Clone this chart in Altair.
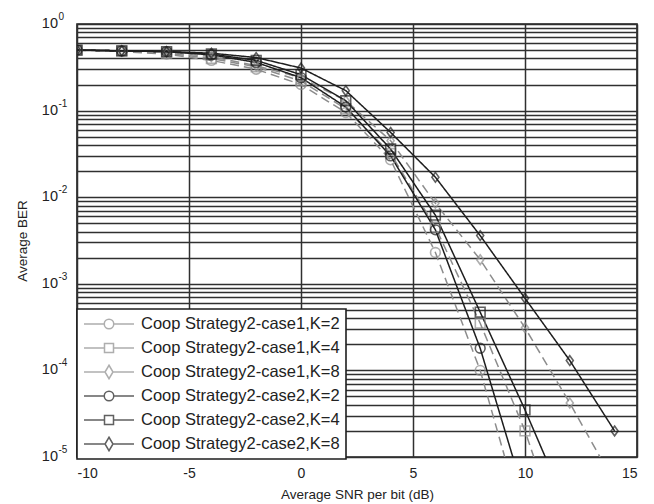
import altair as alt
import pandas as pd

# Eb/N0 sweep (dB) shared by every curve
snr_db = [-10, -8, -6, -4, -2, 0, 2, 4, 6, 8, 10, 12, 14]

series_names = [
    "Coop Strategy2-case1,K=2",
    "Coop Strategy2-case1,K=4",
    "Coop Strategy2-case1,K=8",
    "Coop Strategy2-case2,K=2",
    "Coop Strategy2-case2,K=4",
    "Coop Strategy2-case2,K=8",
]

ber_c1_k2 = [0.5, 0.48, 0.45, 0.38, 0.30, 0.20, 0.095, 0.027, 0.0023, 1.0e-4, 1.5e-6]
ber_c1_k4 = [0.5, 0.49, 0.46, 0.40, 0.32, 0.22, 0.105, 0.032, 0.0045, 3.5e-4, 2.0e-5, 6e-7]
ber_c1_k8 = [0.5, 0.49, 0.47, 0.42, 0.33, 0.24, 0.13, 0.045, 0.0085, 0.0019, 3.1e-4, 4.2e-5, 5e-6]
ber_c2_k2 = [0.5, 0.49, 0.48, 0.44, 0.36, 0.24, 0.11, 0.030, 0.0042, 1.8e-4, 3.4e-6]
ber_c2_k4 = [0.5, 0.49, 0.48, 0.45, 0.38, 0.26, 0.13, 0.036, 0.0062, 4.7e-4, 3.5e-5, 2.2e-6]
ber_c2_k8 = [0.5, 0.49, 0.48, 0.46, 0.41, 0.31, 0.17, 0.056, 0.017, 0.0036, 6.8e-4, 1.3e-4, 2.0e-5]

all_ber = [ber_c1_k2, ber_c1_k4, ber_c1_k8, ber_c2_k2, ber_c2_k4, ber_c2_k8]

rows = []
for name, vals in zip(series_names, all_ber):
    for x, v in zip(snr_db, vals):
        rows.append({"snr": x, "ber": v, "series": name})
df = pd.DataFrame(rows)

gray = "#8c8c8c"
black = "#1e1e1e"
colors = [gray, gray, gray, black, black, black]
dashes = [[9, 5], [9, 5], [9, 5], [1, 0], [1, 0], [1, 0]]

circle = "circle"
square = "square"
diamond = "M0,-1L0.72,0L0,1L-0.72,0Z"
marker_shapes = [circle, square, diamond, circle, square, diamond]

# legend glyphs: a short line with the marker in the middle
lg_circle = "M-1,0H-0.19M0.19,0H1M0.19,0A0.19,0.19,0,1,1,-0.19,0A0.19,0.19,0,1,1,0.19,0"
lg_square = "M-1,0H-0.18M0.18,0H1M-0.18,-0.18H0.18V0.18H-0.18Z"
lg_diamond = "M-1,0H-0.16M0.16,0H1M0,-0.27L0.16,0L0,0.27L-0.16,0Z"
legend_shapes = [lg_circle, lg_square, lg_diamond, lg_circle, lg_square, lg_diamond]

y_grid = [m * 10.0 ** e for e in range(-5, 0) for m in range(1, 10)] + [1.0]
x_ticks = [-10, -5, 0, 5, 10, 15]
decades = [-5, -4, -3, -2, -1, 0]

x_scale = alt.Scale(domain=[-10, 15], nice=False, zero=False)
y_scale = alt.Scale(type="log", domain=[1e-5, 1], nice=False)

font = "Liberation Sans"

x_enc = alt.X(
    "snr:Q", scale=x_scale,
    axis=alt.Axis(values=x_ticks, grid=True, ticks=False, domain=False,
                  title="Average SNR per bit (dB)", labelPadding=9,
                  titlePadding=7, labelExpr="'' + datum.value"),
)
y_enc = alt.Y(
    "ber:Q", scale=y_scale,
    axis=alt.Axis(values=y_grid, grid=True, ticks=False, labels=False,
                  domain=False, title="Average BER", titlePadding=48),
)

lines = alt.Chart(df).mark_line(clip=True, strokeWidth=1.5).encode(
    x=x_enc, y=y_enc,
    stroke=alt.Stroke("series:N", scale=alt.Scale(domain=series_names, range=colors), legend=None),
    strokeDash=alt.StrokeDash("series:N", scale=alt.Scale(domain=series_names, range=dashes), legend=None),
)

points = alt.Chart(df).mark_point(clip=True, filled=False, size=95, strokeWidth=1.6).encode(
    x="snr:Q", y="ber:Q",
    stroke=alt.Stroke("series:N", scale=alt.Scale(domain=series_names, range=colors), legend=None),
    shape=alt.Shape("series:N", scale=alt.Scale(domain=series_names, range=marker_shapes), legend=None),
)

legend_layer = alt.Chart(df).transform_filter("datum.snr > 1000").mark_point(
    filled=False, strokeWidth=1.5
).encode(
    stroke=alt.Stroke("series:N", scale=alt.Scale(domain=series_names, range=colors),
                      legend=alt.Legend(title=None)),
    shape=alt.Shape("series:N", scale=alt.Scale(domain=series_names, range=legend_shapes),
                    legend=alt.Legend(title=None)),
)

dec_df = pd.DataFrame({"val": [10.0 ** d for d in decades], "exp": [str(d) for d in decades]})
base_lbl = alt.Chart(dec_df).mark_text(align="right", baseline="middle", fontSize=14.5,
                                        font=font, color="#222").encode(
    y=alt.Y("val:Q"), x=alt.value(-19), text=alt.value("10"))
exp_lbl = alt.Chart(dec_df).mark_text(align="left", baseline="middle", fontSize=10,
                                       font=font, color="#222", dy=-7).encode(
    y=alt.Y("val:Q"), x=alt.value(-18.5), text="exp:N")

chart = alt.layer(lines, points, legend_layer, base_lbl, exp_lbl).resolve_scale(
    shape="independent", stroke="independent", strokeDash="independent"
).properties(
    width=560, height=433,
    padding={"left": 77, "top": 24, "right": 17, "bottom": 47},
    autosize=alt.AutoSizeParams(type="none"),
).configure_view(
    stroke="#1e1e1e", strokeWidth=1.6
).configure_axis(
    gridColor="#303030", gridWidth=1.5, gridOpacity=1,
    labelFont=font, titleFont=font, labelFontSize=14, titleFontSize=13.5,
    labelColor="#222", titleColor="#222", titleFontWeight="normal",
).configure_legend(
    orient="none", legendX=0, legendY=285,
    fillColor="white", strokeColor="#1e1e1e", strokeWidth=1.6,
    padding=6, symbolSize=2500, symbolStrokeWidth=1.5, symbolFillColor="white",
    labelFont=font, labelFontSize=16.5, labelColor="#222", labelOffset=6,
    rowPadding=6, clipHeight=18, labelLimit=400,
)

chart.save("out.html", embed_options={"renderer": "svg", "actions": False})
